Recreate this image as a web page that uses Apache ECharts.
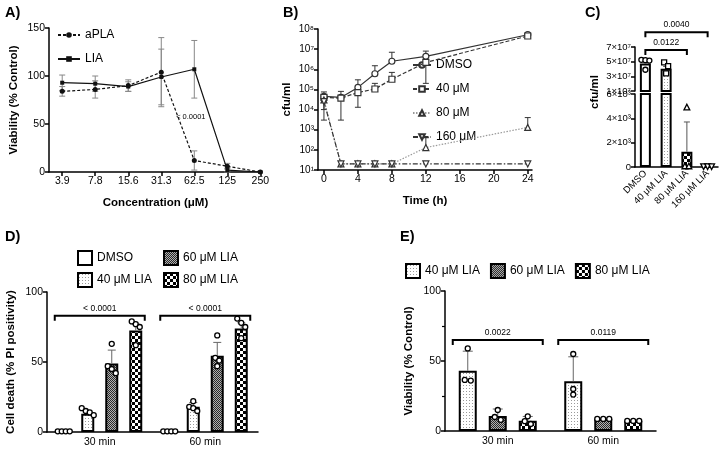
<!DOCTYPE html>
<html>
<head>
<meta charset="utf-8">
<title>LIA figure</title>
<script src="https://cdn.jsdelivr.net/npm/echarts@6.0.0/dist/echarts.min.js"></script>
<style>
  html, body { margin: 0; padding: 0; background: #ffffff; }
  #fig { width: 725px; height: 451px; }
</style>
</head>
<body>
<div id="fig"></div>
<script>
// A) viability vs concentration
var concLabels = ['3.9', '7.8', '15.6', '31.3', '62.5', '125', '250'];
var aplaMean = [84, 86, 90, 104, 12, 6, 0];
var aplaSd = [5, 9, 6, 36, 10, 3, 0];
var liaMean = [93, 92, 89, 99, 107, 2, 0];
var liaSd = [8, 8, 5, 29, 30, 2, 0];
var aNote = [3.45, 57];

// B) growth curves, cfu/ml (null = no bar on that side)
var hours = [0, 2, 4, 6, 8, 12, 24];
var bDmso = [4.5e4, 4e4, 1.26e5, 6e5, 2.5e6, 4.4e6, 5.2e7];
var bDmsoHi = [7.5e4, 8e4, 3e5, 1.5e6, 7e6, 8e6, null];
var bDmsoLo = [null, null, null, null, null, null, null];
var b40 = [4e4, 3.7e4, 7e4, 1.05e5, 3.2e5, 2.2e6, 4.5e7];
var b40Hi = [null, null, null, 2e5, 7e5, null, null];
var b40Lo = [null, 3e3, 1.3e4, null, null, 2e5, null];
var b80 = [3e4, 20, 20, 20, 20, 130, 1300];
var b80Hi = [null, null, null, null, null, 400, 4000];
var b80Lo = [1e4, null, null, null, null, null, null];
var b160 = [2.5e4, 20, 20, 20, 20, 20, 20];
var b160Hi = [null, null, null, null, null, null, null];
var b160Lo = [3e3, null, null, null, null, null, null];

// C) cfu/ml after treatment
var cGroups = ['DMSO', '40 μM LIA', '80 μM LIA', '160 μM LIA'];
var cMean = [4.75e7, 4.05e7, 1250, 40];
var cSd = [3e6, 3e6, 2450, 20];
var cPoints = [[5.25e7, 5.2e7, 5.15e7, 3.9e7], [4.9e7, 4.4e7, 3.4e7], [4900, 60, 60], [50, 50, 50]];
var cBrackets = [[0, 2, 6.6e7], [0, 3, 9e7]];
var cBracketText = ['0.0122', '0.0040'];

// D) cell death (% PI positivity)
var timeGroups = ['30 min', '60 min'];
var dNames = ['DMSO', '40 μM LIA', '60 μM LIA', '80 μM LIA'];
var dMean = [[0.5, 0.5], [13, 18], [49, 54.5], [72.5, 74]];
var dSd = [[0.3, 0.3], [2, 3], [9.5, 9.5], [4.5, 4]];
var dPoints = [
  [[0.5, 0.5, 0.5, 0.5], [0.5, 0.5, 0.5, 0.5]],
  [[17, 15, 14, 12], [22, 18, 17, 15]],
  [[63, 47, 45, 42], [69, 53, 51, 47]],
  [[79, 77, 75, 62], [81, 78, 75, 67]]
];
var dBrackets = [[0, 0, 83], [1, 1, 83]];
var dBracketText = ['< 0.0001', '< 0.0001'];

// E) viability (% control)
var eNames = ['40 μM LIA', '60 μM LIA', '80 μM LIA'];
var eMean = [[43, 35.5], [10.7, 8.6], [7.4, 7.2]];
var eSd = [[14, 17.5], [5, 0.5], [3, 0.5]];
var ePoints = [
  [[59, 36.5, 36], [55, 30, 26]],
  [[15, 10, 8], [8.6, 8.6, 8.6]],
  [[10.5, 7, 5], [7.2, 7.2, 7.2]]
];
var eBrackets = [[0, 0, 65], [1, 1, 65]];
var eBracketText = ['0.0022', '0.0119'];

var FONT = 'Liberation Sans, DejaVu Sans, sans-serif';
var SUP = ['⁰', '¹', '²', '³', '⁴', '⁵', '⁶', '⁷', '⁸', '⁹'];

function makePattern(size, draw) {
  var c = document.createElement('canvas');
  c.width = size; c.height = size;
  draw(c.getContext('2d'));
  return { image: c, repeat: 'repeat' };
}
var dotFill = makePattern(3, function (g) {
  g.fillStyle = '#fff'; g.fillRect(0, 0, 3, 3);
  g.fillStyle = '#9a9a9a'; g.fillRect(1, 1, 1, 1);
});
var denseFill = makePattern(2, function (g) {
  g.fillStyle = '#b0b0b0'; g.fillRect(0, 0, 2, 2);
  g.fillStyle = '#2a2a2a'; g.fillRect(0, 0, 1, 1); g.fillRect(1, 1, 1, 1);
});
var checkFill = makePattern(6, function (g) {
  g.fillStyle = '#fff'; g.fillRect(0, 0, 6, 6);
  g.fillStyle = '#000'; g.fillRect(0, 0, 3, 3); g.fillRect(3, 3, 3, 3);
});

// spread points that sit on top of each other (simple beeswarm)
function swarmSlots(vals, tol) {
  var idx = vals.map(function (v, i) { return i; }).sort(function (a, b) { return vals[b] - vals[a]; });
  var slots = [];
  var i = 0;
  while (i < idx.length) {
    var j = i + 1;
    while (j < idx.length && vals[idx[j - 1]] - vals[idx[j]] < tol) j++;
    for (var k = i; k < j; k++) slots[idx[k]] = (k - i) - (j - i - 1) / 2;
    i = j;
  }
  return slots;
}
function dotData(groups, tol, lo, hi) {
  var out = [];
  groups.forEach(function (vals, c) {
    var s = swarmSlots(vals, tol);
    vals.forEach(function (v, k) {
      if (lo != null && (v < lo || v > hi)) return;
      out.push([c, v, s[k]]);
    });
  });
  return out;
}
function marker(kind, x, y, r) {
  var st = { fill: '#fff', stroke: '#000', lineWidth: 1.3 };
  if (kind === 'rect') return { type: 'rect', shape: { x: x - r, y: y - r, width: 2 * r, height: 2 * r }, style: st };
  if (kind === 'tri') return { type: 'polygon', shape: { points: [[x, y - r - 0.6], [x + r + 0.4, y + r], [x - r - 0.4, y + r]] }, style: st };
  if (kind === 'dtri') return { type: 'polygon', shape: { points: [[x, y + r + 0.6], [x + r + 0.4, y - r], [x - r - 0.4, y - r]] }, style: st };
  return { type: 'circle', shape: { cx: x, cy: y, r: r }, style: st };
}
function dotSeries(xi, yi, data, offset, slotPx, kinds) {
  return {
    type: 'custom', xAxisIndex: xi, yAxisIndex: yi, z: 6, silent: true,
    encode: { x: 0, y: 1 },
    renderItem: function (params, api) {
      var c = api.value(0);
      var p = api.coord([c, api.value(1)]);
      var kind = typeof kinds === 'string' ? kinds : kinds[c];
      return marker(kind, p[0] + offset + api.value(2) * slotPx, p[1], 2.5);
    },
    data: data
  };
}
// entries: [x, lo, hi, mean]
function errSeries(xi, yi, data, offset, cap, color, width) {
  return {
    type: 'custom', xAxisIndex: xi, yAxisIndex: yi, z: 5, silent: true,
    encode: { x: 0, y: [1, 2] },
    renderItem: function (params, api) {
      var xv = api.value(0), m = api.value(3);
      var lo = api.coord([xv, api.value(1)]);
      var hi = api.coord([xv, api.value(2)]);
      var x = lo[0] + offset;
      var st = { stroke: color, lineWidth: width };
      var kids = [{ type: 'line', shape: { x1: x, y1: lo[1], x2: x, y2: hi[1] }, style: st }];
      if (api.value(2) > m) kids.push({ type: 'line', shape: { x1: x - cap, y1: hi[1], x2: x + cap, y2: hi[1] }, style: st });
      if (api.value(1) < m) kids.push({ type: 'line', shape: { x1: x - cap, y1: lo[1], x2: x + cap, y2: lo[1] }, style: st });
      return { type: 'group', children: kids };
    },
    data: data
  };
}
function bracketSeries(xi, yi, data, labels, pad) {
  return {
    type: 'custom', xAxisIndex: xi, yAxisIndex: yi, z: 7, silent: true,
    encode: { x: 0, y: 2 },
    renderItem: function (params, api) {
      var a = api.coord([api.value(0), api.value(2)]);
      var b = api.coord([api.value(1), api.value(2)]);
      var x1 = a[0] - pad, x2 = b[0] + pad, y = a[1];
      return {
        type: 'group', children: [
          { type: 'polyline', shape: { points: [[x1, y + 5], [x1, y], [x2, y], [x2, y + 5]] }, style: { stroke: '#000', lineWidth: 2, fill: null } },
          { type: 'text', x: (x1 + x2) / 2, y: y - 3, style: { text: labels[params.dataIndex], fill: '#000', font: '8.5px ' + FONT, align: 'center', verticalAlign: 'bottom' } }
        ]
      };
    },
    data: data
  };
}
function pairErr(xs, mean, lo, hi) {
  var out = [];
  xs.forEach(function (x, i) {
    var l = lo[i] == null ? mean[i] : lo[i];
    var h = hi[i] == null ? mean[i] : hi[i];
    if (l !== h) out.push([x, l, h, mean[i]]);
  });
  return out;
}

var tickLabel = { color: '#000', fontSize: 10.5, fontFamily: FONT, margin: 4 };
var axLine = { onZero: false, lineStyle: { color: '#000', width: 1.5 } };
var axTick = { length: 4, lineStyle: { color: '#000', width: 1.5 } };
var nameStyle = { color: '#000', fontSize: 11.5, fontWeight: 'bold', fontFamily: FONT };
function lbl(extra) { return Object.assign({}, tickLabel, extra || {}); }

var series = [];

// ---- A
var aErrA = [], aErrL = [];
concLabels.forEach(function (c, i) {
  if (aplaSd[i] > 0) aErrA.push([i, aplaMean[i] - aplaSd[i], aplaMean[i] + aplaSd[i], aplaMean[i]]);
  if (liaSd[i] > 0) aErrL.push([i, liaMean[i] - liaSd[i], liaMean[i] + liaSd[i], liaMean[i]]);
});
series.push(errSeries(0, 0, aErrA, 0, 3, '#888', 1));
series.push(errSeries(0, 0, aErrL, 0, 3, '#888', 1));
series.push({
  name: 'aPLA', type: 'line', xAxisIndex: 0, yAxisIndex: 0, z: 6,
  data: aplaMean.map(function (v, i) { return [i, v]; }),
  symbol: 'circle', symbolSize: 5,
  lineStyle: { color: '#111', width: 1.2, type: [3, 2] },
  itemStyle: { color: '#111' }
});
series.push({
  name: 'LIA', type: 'line', xAxisIndex: 0, yAxisIndex: 0, z: 6,
  data: liaMean.map(function (v, i) { return [i, v]; }),
  symbol: 'rect', symbolSize: 4,
  lineStyle: { color: '#111', width: 1.2 },
  itemStyle: { color: '#111' }
});
series.push({
  type: 'custom', xAxisIndex: 0, yAxisIndex: 0, silent: true, z: 7,
  renderItem: function (params, api) {
    var p = api.coord([api.value(0), api.value(1)]);
    return { type: 'text', x: p[0], y: p[1], style: { text: '< 0.0001', fill: '#000', font: '7.5px ' + FONT, align: 'left', verticalAlign: 'middle' } };
  },
  data: [aNote]
});

// ---- B
var bDefs = [
  { name: 'DMSO', v: bDmso, lo: bDmsoLo, hi: bDmsoHi, sym: 'circle', rot: 0, color: '#333', type: 'solid' },
  { name: '40 μM', v: b40, lo: b40Lo, hi: b40Hi, sym: 'rect', rot: 0, color: '#333', type: [4, 2] },
  { name: '80 μM', v: b80, lo: b80Lo, hi: b80Hi, sym: 'triangle', rot: 0, color: '#999', type: [1.5, 1.5] },
  { name: '160 μM', v: b160, lo: b160Lo, hi: b160Hi, sym: 'triangle', rot: 180, color: '#333', type: [5, 2, 1.5, 2] }
];
bDefs.forEach(function (d) {
  series.push(errSeries(1, 1, pairErr(hours, d.v, d.lo, d.hi), 0, 3, '#333', 1));
});
bDefs.forEach(function (d) {
  series.push({
    name: d.name, type: 'line', xAxisIndex: 1, yAxisIndex: 1, z: 6,
    data: d.v.map(function (v, i) { return [hours[i], v]; }),
    symbol: d.sym, symbolRotate: d.rot, symbolSize: 6,
    lineStyle: { color: d.color, width: 1.2, type: d.type },
    itemStyle: { color: '#fff', borderColor: '#333', borderWidth: 1.2 }
  });
});

// ---- C (broken axis: grid 2 upper, grid 3 lower)
var cFills = ['#fff', dotFill, checkFill, denseFill];
var cKinds = ['circle', 'rect', 'tri', 'dtri'];
var C_UP = [1e7, 7e7], C_LO = [0, 6000];
[2, 3].forEach(function (g) {
  series.push({
    type: 'bar', xAxisIndex: g, yAxisIndex: g, barWidth: 11, clip: true,
    data: cMean.map(function (v, i) {
      return { value: v, itemStyle: { color: cFills[i], borderColor: '#000', borderWidth: 2 } };
    })
  });
});
var cErr = cMean.map(function (m, i) { return [i, m, m + cSd[i], m]; });
series.push(errSeries(2, 2, cErr.filter(function (e) { return e[1] >= C_UP[0]; }), 0, 3, '#555', 1));
series.push(errSeries(3, 3, cErr.filter(function (e) { return e[1] < C_UP[0]; }), 0, 3, '#555', 1));
series.push(dotSeries(2, 2, dotData(cPoints, 8e6, C_UP[0], C_UP[1] * 2), 0, 4, cKinds));
series.push(dotSeries(3, 3, dotData(cPoints, 500, C_LO[0], C_LO[1]), 0, 4, cKinds));
series.push(bracketSeries(2, 2, cBrackets, cBracketText, 0));

// ---- D
var D_BAR = 13, D_STEP = 24;
var dFills = ['#fff', dotFill, denseFill, checkFill];
dNames.forEach(function (n, si) {
  series.push({
    name: 'D|' + n, type: 'bar', xAxisIndex: 4, yAxisIndex: 4,
    barWidth: D_BAR, barGap: ((D_STEP - D_BAR) / D_BAR * 100) + '%',
    itemStyle: { color: dFills[si], borderColor: '#000', borderWidth: 2 },
    data: dMean[si]
  });
});
dNames.forEach(function (n, si) {
  var off = (si - (dNames.length - 1) / 2) * D_STEP;
  series.push(errSeries(4, 4, dMean[si].map(function (m, c) { return [c, m, m + dSd[si][c], m]; }), off, 4, '#666', 1));
  series.push(dotSeries(4, 4, dotData(dPoints[si], 3.5), off, 4, 'circle'));
});
series.push(bracketSeries(4, 4, dBrackets, dBracketText, 45));

// ---- E
var E_BAR = 18, E_STEP = 30;
var eFills = [dotFill, denseFill, checkFill];
eNames.forEach(function (n, si) {
  series.push({
    name: 'E|' + n, type: 'bar', xAxisIndex: 5, yAxisIndex: 5,
    barWidth: E_BAR, barGap: ((E_STEP - E_BAR) / E_BAR * 100) + '%',
    itemStyle: { color: eFills[si], borderColor: '#000', borderWidth: 2 },
    data: eMean[si]
  });
});
eNames.forEach(function (n, si) {
  var off = (si - (eNames.length - 1) / 2) * E_STEP;
  series.push(errSeries(5, 5, eMean[si].map(function (m, c) { return [c, m, m + eSd[si][c], m]; }), off, 5, '#666', 1));
  series.push(dotSeries(5, 5, dotData(ePoints[si], 3.5), off, 6, 'circle'));
});
series.push(bracketSeries(5, 5, eBrackets, eBracketText, 45));

var panelTitle = function (t, x, y) {
  return { text: t, left: x, top: y, padding: 0, textStyle: { fontSize: 14.5, fontWeight: 'bold', fontFamily: FONT, color: '#000' } };
};
var legendText = { fontSize: 12, fontFamily: FONT, color: '#000' };
var stripName = function (n) { return n.split('|').pop(); };

var option = {
  animation: false,
  backgroundColor: '#fff',
  title: [panelTitle('A)', 5, 5), panelTitle('B)', 283, 5), panelTitle('C)', 585, 5), panelTitle('D)', 5, 229), panelTitle('E)', 400, 229)],
  legend: [
    { data: ['aPLA', 'LIA'], orient: 'vertical', left: 57, top: 29, padding: 0, itemWidth: 22, itemHeight: 7, itemGap: 12, textStyle: legendText, selectedMode: false },
    { data: ['DMSO', '40 μM', '80 μM', '160 μM'], orient: 'vertical', left: 412, top: 59, padding: 0, itemWidth: 18, itemHeight: 7, itemGap: 12, textStyle: legendText, selectedMode: false },
    { data: ['D|DMSO', 'D|40 μM LIA'], orient: 'vertical', left: 77, top: 250, padding: 0, itemWidth: 14, itemHeight: 14, itemGap: 6, textStyle: legendText, formatter: stripName, selectedMode: false, icon: 'rect' },
    { data: ['D|60 μM LIA', 'D|80 μM LIA'], orient: 'vertical', left: 163, top: 250, padding: 0, itemWidth: 14, itemHeight: 14, itemGap: 6, textStyle: legendText, formatter: stripName, selectedMode: false, icon: 'rect' },
    { data: ['E|40 μM LIA', 'E|60 μM LIA', 'E|80 μM LIA'], orient: 'horizontal', left: 405, top: 263, padding: 0, itemWidth: 14, itemHeight: 14, itemGap: 10, textStyle: legendText, formatter: stripName, selectedMode: false, icon: 'rect' }
  ],
  grid: [
    { left: 49, top: 28, width: 213, height: 144 },
    { left: 318, top: 29, width: 214, height: 141 },
    { left: 635, top: 47, width: 83, height: 44 },
    { left: 635, top: 94, width: 83, height: 73 },
    { left: 47, top: 292, width: 211, height: 140 },
    { left: 445, top: 291, width: 211, height: 140 }
  ],
  xAxis: [
    {
      gridIndex: 0, type: 'value', min: -0.4, max: 6.05,
      axisLine: axLine, axisTick: Object.assign({ customValues: [0, 1, 2, 3, 4, 5, 6] }, axTick),
      axisLabel: lbl({ customValues: [0, 1, 2, 3, 4, 5, 6], formatter: function (v) { return concLabels[Math.round(v)]; } }),
      splitLine: { show: false },
      name: 'Concentration (μM)', nameLocation: 'middle', nameGap: 25, nameTextStyle: nameStyle
    },
    {
      gridIndex: 1, type: 'value', min: -0.7, max: 24.5,
      axisLine: axLine, axisTick: Object.assign({ customValues: [0, 4, 8, 12, 16, 20, 24] }, axTick),
      axisLabel: lbl({ customValues: [0, 4, 8, 12, 16, 20, 24] }),
      splitLine: { show: false },
      name: 'Time (h)', nameLocation: 'middle', nameGap: 25, nameTextStyle: nameStyle
    },
    { gridIndex: 2, type: 'category', data: cGroups, show: false },
    {
      gridIndex: 3, type: 'category', data: cGroups,
      axisLine: axLine, axisTick: Object.assign({ alignWithLabel: true }, axTick),
      axisLabel: lbl({ rotate: 45, fontSize: 9.5, interval: 0, margin: 5 })
    },
    {
      gridIndex: 4, type: 'category', data: timeGroups,
      axisLine: axLine, axisTick: Object.assign({ alignWithLabel: true }, axTick),
      axisLabel: lbl({ margin: 5 })
    },
    {
      gridIndex: 5, type: 'category', data: timeGroups,
      axisLine: axLine, axisTick: Object.assign({ alignWithLabel: true }, axTick),
      axisLabel: lbl({ margin: 5 })
    }
  ],
  yAxis: [
    {
      gridIndex: 0, type: 'value', min: 0, max: 150, interval: 50,
      axisLine: Object.assign({ show: true }, axLine), axisTick: Object.assign({ show: true }, axTick), axisLabel: lbl(),
      splitLine: { show: false },
      name: 'Viability (% Control)', nameLocation: 'middle', nameGap: 29, nameTextStyle: nameStyle
    },
    {
      gridIndex: 1, type: 'log', logBase: 10, min: 10, max: 1e8,
      axisLine: Object.assign({ show: true }, axLine),
      axisTick: Object.assign({ show: true, customValues: [1e1, 1e2, 1e3, 1e4, 1e5, 1e6, 1e7, 1e8] }, axTick),
      axisLabel: lbl({ fontSize: 10, customValues: [1e1, 1e2, 1e3, 1e4, 1e5, 1e6, 1e7, 1e8], formatter: function (v) { return '10' + SUP[Math.round(Math.log10(v))]; } }),
      splitLine: { show: false },
      name: 'cfu/ml', nameLocation: 'middle', nameGap: 25, nameTextStyle: nameStyle
    },
    {
      gridIndex: 2, type: 'value', min: C_UP[0], max: C_UP[1], interval: 2e7,
      axisLine: Object.assign({ show: true }, axLine), axisTick: Object.assign({ show: true }, axTick),
      axisLabel: lbl({ fontSize: 9.5, formatter: function (v) { return Math.round(v / 1e7) + '×10' + SUP[7]; } }),
      splitLine: { show: false }
    },
    {
      gridIndex: 3, type: 'value', min: C_LO[0], max: C_LO[1], interval: 2000,
      axisLine: Object.assign({ show: true }, axLine), axisTick: Object.assign({ show: true }, axTick),
      axisLabel: lbl({ fontSize: 9.5, formatter: function (v) { return v === 0 ? '0' : Math.round(v / 1000) + '×10' + SUP[3]; } }),
      splitLine: { show: false }
    },
    {
      gridIndex: 4, type: 'value', min: 0, max: 100, interval: 50,
      axisLine: Object.assign({ show: true }, axLine), axisTick: Object.assign({ show: true }, axTick), axisLabel: lbl(),
      splitLine: { show: false },
      name: 'Cell death (% PI positivity)', nameLocation: 'middle', nameGap: 30, nameTextStyle: nameStyle
    },
    {
      gridIndex: 5, type: 'value', min: 0, max: 100, interval: 50,
      axisLine: Object.assign({ show: true }, axLine), axisTick: Object.assign({ show: true }, axTick), axisLabel: lbl(),
      minorTick: { show: true, splitNumber: 2, length: 3, lineStyle: { color: '#000', width: 1.2 } },
      splitLine: { show: false }, minorSplitLine: { show: false },
      name: 'Viability (% Control)', nameLocation: 'middle', nameGap: 30, nameTextStyle: nameStyle
    }
  ],
  graphic: [
    { type: 'text', x: 595, y: 92, rotation: Math.PI / 2, style: { text: 'cfu/ml', font: 'bold 11.5px ' + FONT, fill: '#000', align: 'center', verticalAlign: 'middle' } }
  ],
  series: series
};

var chart = echarts.init(document.getElementById('fig'));
chart.setOption(option);
</script>
</body>
</html>
